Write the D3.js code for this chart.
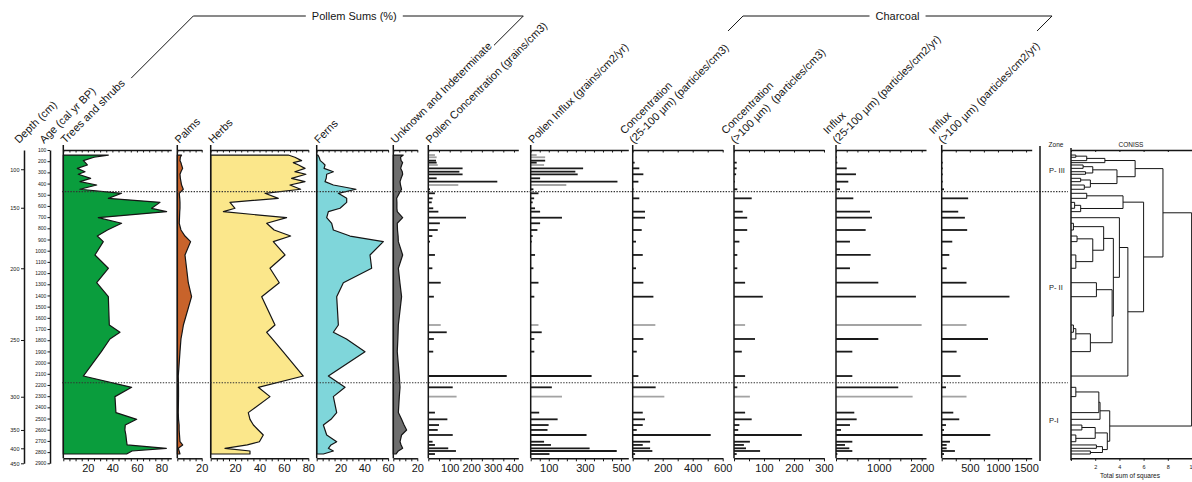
<!DOCTYPE html>
<html><head><meta charset="utf-8">
<script src="https://cdn.jsdelivr.net/npm/d3@7"></script>
<style>
body{margin:0;background:#fff;}
svg{display:block;font-family:"Liberation Sans",Arial,Helvetica,sans-serif;}
text{white-space:pre;}
</style></head><body>
<svg id="chart" width="1192" height="482"></svg>
<script>
// ---- Sample ages (cal yr BP) ----
const sampleAge = [145,165,195,213,234,264,294,317,353,383,413,451,487,532,568,621,651,705,755,815,869,919,1038,1157,1286,1411,1664,1729,1789,1902,2120,2221,2304,2447,2507,2558,2602,2647,2707,2736,2766,2790,2817];

// ---- Pollen sums (%) ----
const treesShrubs = [36.7,25,16.3,18,19.6,11.4,17.7,12.2,22.3,13.6,27.2,13.6,47.5,36.7,78.8,72,84.2,28.5,47.5,36,27.7,32.6,25.8,36.7,27.2,36.7,37.5,46.2,38,31,16.3,55.7,42.1,42.9,59.8,50.5,50.2,51,51.6,52,84,56,51.6];
const palms = [3.5,2.5,2.2,3,3.5,4.4,3,2.2,2.5,3,3.5,4.9,1.6,2,2.2,2.2,2,1.8,1.6,3,6.3,10.9,6.3,7.6,9,11.7,5,4,3,2.2,0.8,1,1,0.8,1,1.5,1.5,1.8,2.2,4.4,0.8,1.5,2.2];
const herbs = [63.6,69,74.5,67.7,72,77.3,69,78,66.3,77.3,65,73.7,44.5,55.4,15.8,19.9,10.4,62.2,45.9,52,65.5,51.3,60.9,48.6,56.2,41.8,52.7,45.9,50.5,59.3,75.9,39,48.6,30.8,32.2,35,39,43.1,39.9,30,11.7,32.2,32.2];
const ferns = [1,2,3,5,7,6.2,14,8.4,8,7,14,33,18.2,25.2,25.2,19.6,9.8,8.4,12.6,14,28,56,44.8,46.2,22.4,16.8,18.2,14,25,40.6,9.8,23.8,14,16.8,12,5.6,7,8.4,16.8,12,9.8,14,5.6];
const unknownIndet = [8.3,6,6.5,7.8,7,6.1,7.5,7.8,6.5,5.6,6,6.9,5,2.8,3,3,3.3,7.8,3.3,3.5,4,4.2,7.8,4.2,5.5,6.9,4.2,4,3.8,3.3,5,5.6,5,4.2,6.9,9,11.1,6.9,5.6,6.5,7.8,4.2,2.2];

// ---- Pollen concentration (grains/cm3) and influx (grains/cm2/yr) ----
const pollenConc = [31,39,36,39,44,160,145,160,39,322,140,8,31,20,16,23,47,176,54,44,19,8,31,19,58,26,58,86,26,23,366,114,132,31,89,50,44,114,20,31,93,129,31];
const pollenInflux = [33,80,80,33,74,290,247,260,52,480,197,15,43,19,11,24,52,173,52,37,11,6,24,15,43,20,43,61,20,20,337,117,173,47,149,99,93,309,74,112,326,476,104];
const pollenEstimated = [0,1,4,10,26,32];

// ---- Charcoal ----
const charConc25 = [null,null,null,13,null,44,null,71,null,38,null,5,null,44,null,null,82,82,null,60,null,22,67,22,71,138,151,null,71,27,38,153,211,67,82,67,27,520,116,67,116,131,16];
const charConc100 = [null,null,null,9,null,9,null,7,null,3,null,11,null,59,null,null,29,44,null,44,null,18,11,11,37,96,37,null,70,26,37,11,53,37,59,18,14,226,53,33,40,87,9];
const charInflux25 = [null,18,null,31,null,249,null,466,null,287,null,93,null,404,null,null,793,839,null,692,null,326,808,326,987,1865,1998,null,987,381,381,1453,1788,427,482,326,117,2021,381,210,311,381,31];
const charInflux100 = [null,null,null,18,null,18,null,18,null,18,null,41,null,470,null,null,294,412,null,453,null,188,135,88,441,1205,441,null,823,265,335,76,441,206,312,76,41,864,147,88,88,235,41];
const charcoalEstimated = [26,32];

// ---- Depth / age scale ----
const depthTicks = [100,150,200,250,300,350,400,450];
const depthTickAges = [272,616,1157,1798,2305,2602,2766,2900];
const ageTicks = [100,200,300,400,500,600,700,800,900,1000,1100,1200,1300,1400,1500,1600,1700,1800,1900,2000,2100,2200,2300,2400,2500,2600,2700,2800,2900];

// ---- Zones ----
const zoneNames = ["P- III","P- II","P-I"];
const zoneBounds = [472,2180];

// ---- CONISS dendrogram: [height, childA, childB]; leaves are sample indices ----
const conissTree = [9.97,
  [7.6,
    [5.3,
      [2.8,[1.3,[0.4,0,1],2],3],
      [3.8,[1.8,[1.0,4,5],[1.2,6,7]],[1.6,[0.8,8,9],[1.1,10,11]]]],
    [6.0,
      [4.3,[1.3,12,13],[0.8,[0.3,14,15],16]],
      [4.7,
        [4.0,17,
          [3.5,
            [2.7,[0.2,18,19],[1.8,[0.5,20,21],[0.4,22,23]]],
            [3.4,[2.1,24,25],[1.6,[0.4,[0.2,26,27],28],29]]]],
        30]]],
  [3.2,
    [2.4,[2.3,[0.4,31,32],33],34],
    [3.0,[2.0,[0.9,35,36],[0.4,37,38]],[2.6,[2.1,39,40],[1.6,41,42]]]]];
const conissTicks = [0,2,4,6,8,10];
const conissLabels = [2,4,6,8,10];

// ================= drawing =================
const svg = d3.select('#chart');
const TOP = 150, BOTTOM = 458.3;
const y = d3.scaleLinear().domain([100, 2900]).range([150, 463.3]);
const INK = '#151515';
const FONT = '"Liberation Sans",Arial,sans-serif';

function styleAxis(g, fs) {
  g.select('.domain').attr('stroke', INK).attr('stroke-width', 1.5);
  g.selectAll('.tick line').attr('stroke', INK).attr('stroke-width', 1);
  g.selectAll('.tick text').attr('fill', INK).attr('font-size', fs).attr('font-family', FONT);
  g.attr('font-family', null);
}

function frame(x, minorStep, labels, fs) {
  const [d0, d1] = x.domain();
  const ticks = d3.range(d0, d1 + 1e-6, minorStep);
  const g = svg.append('g');
  const top = g.append('g').attr('transform', `translate(0,${TOP})`)
    .call(d3.axisBottom(x).tickValues(ticks).tickSize(2.5).tickSizeOuter(0).tickFormat(''));
  styleAxis(top, fs);
  const bot = g.append('g').attr('transform', `translate(0,${BOTTOM})`)
    .call(d3.axisBottom(x).tickValues(ticks).tickSize(3).tickSizeOuter(0).tickPadding(3)
      .tickFormat(d => labels.includes(d) ? d : ''));
  styleAxis(bot, fs);
  g.append('line').attr('x1', x(0)).attr('x2', x(0)).attr('y1', TOP - 5).attr('y2', BOTTOM)
    .attr('stroke', INK).attr('stroke-width', 1.5);
}

function header(lines, ax, ay) {
  const g = svg.append('g').attr('transform', `translate(${ax},${ay}) rotate(-45)`);
  const n = lines.length;
  return lines.map((s, i) => g.append('text').attr('x', 0).attr('y', -(n - 1 - i) * 13.2)
    .attr('font-size', 11).attr('fill', INK).text(s));
}

// ---- percentage panels ----
const percentPanels = [
  {values: treesShrubs, x0: 63.3, max: 88, k: 1.227, labels: [20,40,60,80], fill: '#0a9d3d', title: ['Trees and shrubs']},
  {values: palms, x0: 177.3, max: 20, k: 1.22, labels: [20], fill: '#c8632b', title: ['Palms']},
  {values: herbs, x0: 210.7, max: 80, k: 1.22, labels: [20,40,60,80], fill: '#fbe78b', title: ['Herbs']},
  {values: ferns, x0: 316.7, max: 60, k: 1.19, labels: [20,40,60], fill: '#7fd6da', title: ['Ferns']},
  {values: unknownIndet, x0: 393.3, max: 20, k: 1.2, labels: [20], fill: '#6e6e6e', title: ['Unknown and Indeterminate']}
];
const headerTexts = [];
percentPanels.forEach(p => {
  const x = d3.scaleLinear().domain([0, p.max]).range([p.x0, p.x0 + p.max * p.k]);
  const area = d3.area().x0(x(0)).x1(d => x(d.v)).y(d => y(d.a));
  const pts = sampleAge.map((a, i) => ({a, v: p.values[i]}));
  svg.append('path').datum(pts).attr('d', area)
    .attr('fill', p.fill).attr('stroke', INK).attr('stroke-width', 1.2).attr('stroke-linejoin', 'round');
  frame(x, 5, p.labels, 11);
  headerTexts.push(header(p.title, p.x0 + 2, 144));
});

// ---- bar panels ----
const barPanels = [
  {values: pollenConc, est: pollenEstimated, x0: 428.3, max: 420, px: 90, step: 50, labels: [100,200,300,400], title: ['Pollen Concentration (grains/cm3)']},
  {values: pollenInflux, est: pollenEstimated, x0: 530.7, max: 540, px: 97.6, step: 50, labels: [100,300,500], title: ['Pollen Influx (grains/cm2/yr)']},
  {values: charConc25, est: charcoalEstimated, x0: 632.7, max: 600, px: 90, step: 100, labels: [200,400,600], title: ['Concentration', '(25-100 µm) (particles/cm3)']},
  {values: charConc100, est: charcoalEstimated, x0: 734, max: 300, px: 90, step: 50, labels: [100,200,300], title: ['Concentration', '(>100 µm)  (particles/cm3)']},
  {values: charInflux25, est: charcoalEstimated, x0: 836, max: 2100, px: 90, step: 250, labels: [1000,2000], title: ['Influx', '(25-100 µm) (particles/cm2/yr)']},
  {values: charInflux100, est: charcoalEstimated, x0: 941.7, max: 1600, px: 90, step: 250, labels: [500,1000,1500], title: ['Influx', '(>100 µm) (particles/cm2/yr)']}
];
const barHeaders = [];
barPanels.forEach(p => {
  const x = d3.scaleLinear().domain([0, p.max]).range([p.x0, p.x0 + p.px]);
  const rows = sampleAge.map((a, i) => ({a, v: p.values[i], est: p.est.includes(i)}))
    .filter(d => d.v !== null);
  svg.append('g').selectAll('line').data(rows).join('line')
    .attr('x1', x(0)).attr('x2', d => x(d.v))
    .attr('y1', d => y(d.a)).attr('y2', d => y(d.a))
    .attr('stroke', d => d.est ? '#a3a3a3' : '#1a1a1a')
    .attr('stroke-width', 1.8);
  frame(x, p.step, p.labels, 11);
  const anchorX = p.title.length > 1 ? p.x0 + 1 : p.x0 + 2;
  barHeaders.push({texts: header(p.title, anchorX, 144), ax: anchorX, ay: 144});
});

// ---- depth and age axes ----
const depthAxis = svg.append('g').attr('transform', 'translate(24,0)')
  .call(d3.axisLeft(y).tickValues(depthTickAges).tickSize(3).tickSizeOuter(0).tickPadding(1.5)
    .tickFormat((d, i) => depthTicks[i]));
styleAxis(depthAxis, 5.5);
const ageAxis = svg.append('g').attr('transform', 'translate(50,0)')
  .call(d3.axisLeft(y).tickValues(ageTicks).tickSize(2.5).tickSizeOuter(0).tickPadding(1.2)
    .tickFormat(d3.format('d')));
styleAxis(ageAxis, 5);
header(['Depth (cm)'], 19, 144);
header(['Age (cal yr BP)'], 44, 144);

// ---- zone boundaries ----
svg.append('g').selectAll('line').data(zoneBounds).join('line')
  .attr('x1', 62).attr('x2', 1068).attr('y1', d => y(d)).attr('y2', d => y(d))
  .attr('stroke', '#333').attr('stroke-width', 1.1).attr('stroke-dasharray', '1.4,1.4');

// zone column
svg.append('line').attr('x1', 1040).attr('x2', 1040).attr('y1', 146).attr('y2', 461)
  .attr('stroke', INK).attr('stroke-width', 1.5);
svg.append('text').attr('x', 1056).attr('y', 146.5).attr('text-anchor', 'middle')
  .attr('font-size', 6.5).attr('fill', INK).text('Zone');
const zEdges = [TOP, ...zoneBounds.map(y), BOTTOM];
zoneNames.forEach((z, i) => {
  svg.append('text').attr('x', 1049).attr('y', (zEdges[i] + zEdges[i + 1]) / 2 + 2.5)
    .attr('font-size', 7.5).attr('fill', INK).text(z);
});

// ---- CONISS ----
const xc = d3.scaleLinear().domain([0, 10]).range([1071, 1192]);
const cTop = svg.append('g').attr('transform', `translate(0,${TOP})`)
  .call(d3.axisBottom(xc).tickValues(conissTicks).tickSize(2).tickSizeOuter(0).tickFormat(''));
styleAxis(cTop, 5.5);
const cBot = svg.append('g').attr('transform', `translate(0,${BOTTOM})`)
  .call(d3.axisBottom(xc).tickValues(conissTicks).tickSize(2.5).tickSizeOuter(0).tickPadding(4)
    .tickFormat(d => conissLabels.includes(d) ? d : ''));
styleAxis(cBot, 5.5);
svg.append('line').attr('x1', xc(0)).attr('x2', xc(0)).attr('y1', TOP - 2).attr('y2', BOTTOM + 2)
  .attr('stroke', INK).attr('stroke-width', 1.5);
svg.append('text').attr('x', 1131).attr('y', 146.5).attr('text-anchor', 'middle')
  .attr('font-size', 6.5).attr('fill', INK).text('CONISS');
svg.append('text').attr('x', 1130).attr('y', 478).attr('text-anchor', 'middle')
  .attr('font-size', 6.5).attr('fill', INK).text('Total sum of squares');

const dendro = svg.append('g').attr('stroke', INK).attr('stroke-width', 1).attr('fill', 'none');
function layout(node) {
  if (typeof node === 'number') return {x: xc(0), y: y(sampleAge[node])};
  const [h, a, b] = node;
  const A = layout(a), B = layout(b);
  const nx = xc(h), ny = (A.y + B.y) / 2;
  dendro.append('path').attr('d', `M${A.x},${A.y}H${nx}V${B.y}H${B.x}`);
  return {x: nx, y: ny};
}
layout(conissTree);

// ---- group brackets ----
function bracket(label, left, right, yLine, cx) {
  const g = svg.append('g');
  const t = g.append('text').attr('x', cx).attr('y', yLine + 4).attr('text-anchor', 'middle')
    .attr('font-size', 11).attr('fill', INK).text(label);
  const w = t.node().getComputedTextLength();
  const gap = 6;
  g.append('path').attr('d',
    `M${left[0]},${left[1]}L${left[0] + (left[1] - yLine)},${yLine}H${cx - w / 2 - gap}`)
    .attr('fill', 'none').attr('stroke', INK).attr('stroke-width', 1);
  g.append('path').attr('d',
    `M${cx + w / 2 + gap},${yLine}H${right[0] + (right[1] - yLine)}L${right[0]},${right[1]}`)
    .attr('fill', 'none').attr('stroke', INK).attr('stroke-width', 1);
}
const BR_Y = 16;
// Pollen sums bracket continues the baselines of the first and last % headers
function afterText(tnode, ax, ay, pad) {
  const d = (tnode.node().getComputedTextLength() + pad) / Math.SQRT2;
  return [ax + d, ay - d];
}
const leftP = afterText(headerTexts[0][0], 65.3, 144, 8);
const rightP = afterText(headerTexts[4][0], 395.3, 144, 2);
const leftMid = leftP[0] + (leftP[1] - BR_Y);
const rightMid = rightP[0] + (rightP[1] - BR_Y);
bracket('Pollem Sums (%)', leftP, rightP, BR_Y, (leftMid + rightMid) / 2 - 4);

// Charcoal bracket continues the first-line baselines of the charcoal headers
const c0 = barHeaders[2], c1 = barHeaders[5];
const off = 13.2 / Math.SQRT2;
const cy = 31;
const cl = [c0.ax - off + (c0.ay - off - cy), cy];
const cr = [c1.ax - off + (c1.ay - off - cy), cy];
bracket('Charcoal', cl, cr, BR_Y, ((cl[0] + cy - BR_Y) + (cr[0] + cy - BR_Y)) / 2);
</script>
</body></html>
